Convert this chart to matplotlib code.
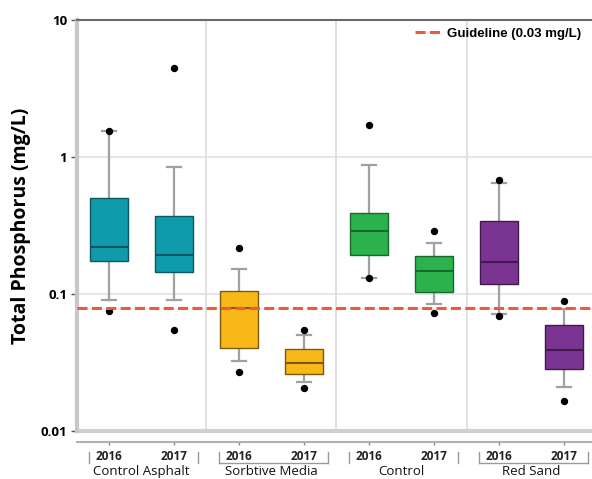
"""Total phosphorus box plots by treatment and year, with guideline overlay."""

import matplotlib

matplotlib.use("Agg")
import matplotlib.pyplot as plt
from matplotlib.lines import Line2D

groups = ["Control Asphalt", "Sorbtive Media", "Control", "Red Sand"]
years = ["2016", "2017"]
group_colors = ["#0f9bab", "#f8b819", "#2bb24c", "#7a3592"]
edge_colors = ["#0b5660", "#7a5a0a", "#17692c", "#3f1b4c"]

# box statistics per series, ordered group by group then year
whislo = [0.090, 0.090, 0.0323, 0.0228, 0.1315, 0.084, 0.0715, 0.021]
q1 = [0.175, 0.144, 0.0406, 0.026, 0.193, 0.104, 0.118, 0.0282]
med = [0.219, 0.191, 0.079, 0.0316, 0.286, 0.1466, 0.171, 0.039]
q3 = [0.505, 0.371, 0.106, 0.0397, 0.392, 0.190, 0.343, 0.0594]
whishi = [1.56, 0.85, 0.151, 0.0505, 0.869, 0.237, 0.65, 0.0778]
outliers = [
    [1.56, 0.0755],
    [4.5, 0.0543],
    [0.216, 0.027],
    [0.0546, 0.0207],
    [1.70, 0.131],
    [0.289, 0.0726],
    [0.679, 0.069],
    [0.0894, 0.0165],
]
guideline = 0.079

stats = []
for i in range(len(med)):
    stats.append({
        "whislo": whislo[i], "q1": q1[i], "med": med[i], "q3": q3[i],
        "whishi": whishi[i], "fliers": outliers[i],
    })
positions = list(range(len(stats)))

fig = plt.figure(figsize=(5.92, 4.79), dpi=100)
ax = fig.add_axes([77 / 592, 1 - 431 / 479, 1 - 77 / 592, 411 / 479])

ax.set_yscale("log")
ax.set_ylim(0.01, 10)
ax.set_xlim(-0.49, 7.43)

# light grid and group separators
for yv in [0.1, 1]:
    ax.axhline(yv, color="#e2e2e2", lw=1.2, zorder=0)
for xv in [1.5, 3.5, 5.5]:
    ax.axvline(xv, color="#dcdcdc", lw=1.2, zorder=0)

bp = ax.bxp(stats, positions=positions, widths=0.59, patch_artist=True,
            capwidths=0.22, showfliers=True)
for i, box in enumerate(bp["boxes"]):
    g = i // 2
    box.set_facecolor(group_colors[g])
    box.set_edgecolor(edge_colors[g])
    box.set_linewidth(1.0)
    box.set_zorder(3)
for i, m in enumerate(bp["medians"]):
    m.set_color(edge_colors[i // 2])
    m.set_linewidth(1.5)
    m.set_zorder(4)
for w in bp["whiskers"]:
    w.set_color("#a0a0a0")
    w.set_linewidth(1.6)
for c in bp["caps"]:
    c.set_color("#a0a0a0")
    c.set_linewidth(1.6)
for f in bp["fliers"]:
    f.set_marker("o")
    f.set_markerfacecolor("black")
    f.set_markeredgecolor("black")
    f.set_markersize(4.3)
    f.set_zorder(5)

dash = (0, (3.3, 1.4))
ax.axhline(guideline, color="#f05a3c", lw=2.2, ls=dash, zorder=6)
handle = Line2D([], [], color="#f05a3c", lw=2.2, ls=dash)
fig.legend([handle], ["Guideline (0.03 mg/L)"], loc="center left",
           bbox_to_anchor=(408 / 592, 1 - 34 / 479), frameon=False,
           handlelength=2.0, handletextpad=0.45, borderpad=0,
           prop={"family": "Liberation Sans", "weight": "bold", "size": 9.5})

# spines
ax.spines["top"].set_color("#6a6a6a")
ax.spines["top"].set_linewidth(1.5)
ax.spines["right"].set_visible(False)
ax.spines["left"].set_color("#c8c8c8")
ax.spines["left"].set_linewidth(3)
ax.spines["bottom"].set_position(("outward", 8))
ax.spines["bottom"].set_color("#b0b0b0")
ax.spines["bottom"].set_linewidth(1.5)
ax.axhline(0.01, color="#d0d0d0", lw=3, clip_on=False, zorder=1)

ax.set_yticks([0.01, 0.1, 1, 10])
ax.set_yticklabels(["0.01", "0.1", "1", "10"], fontfamily="Open Sans",
                   fontweight="bold", fontsize=9.5)
ax.minorticks_off()
ax.tick_params(axis="y", length=4, width=1, color="#555555", pad=3)
ax.set_xticks(positions)
ax.set_xticklabels([])
ax.tick_params(axis="x", length=2, width=1, color="#888888")

ax.set_ylabel("Total Phosphorus (mg/L)", fontfamily="Open Sans",
              fontweight="bold", fontsize=14, labelpad=7)

# nested category labels under the axis
trans = ax.get_xaxis_transform()
y_top, y_bot = -0.051, -0.078
for g, name in enumerate(groups):
    left, right = 2 * g - 0.31, 2 * g + 1 + 0.37
    ax.plot([left, left], [y_top, y_bot], color="#9a9a9a", lw=1,
            transform=trans, clip_on=False)
    ax.plot([right, right], [y_top, y_bot], color="#9a9a9a", lw=1,
            transform=trans, clip_on=False)
    if g % 2 == 1:
        ax.plot([left, right], [y_bot, y_bot], color="#9a9a9a", lw=1,
                transform=trans, clip_on=False)
    for k, yr in enumerate(years):
        ax.text(2 * g + k, -0.0625, yr, transform=trans, ha="center",
                va="center", fontfamily="Open Sans", fontweight="bold",
                fontsize=8.5, color="#222222")
    ax.text(2 * g + 0.5, -0.0835, name, transform=trans, ha="center",
            va="top", fontfamily="Open Sans", fontsize=9.5, color="#111111")

fig.savefig("out.png", dpi=100)
